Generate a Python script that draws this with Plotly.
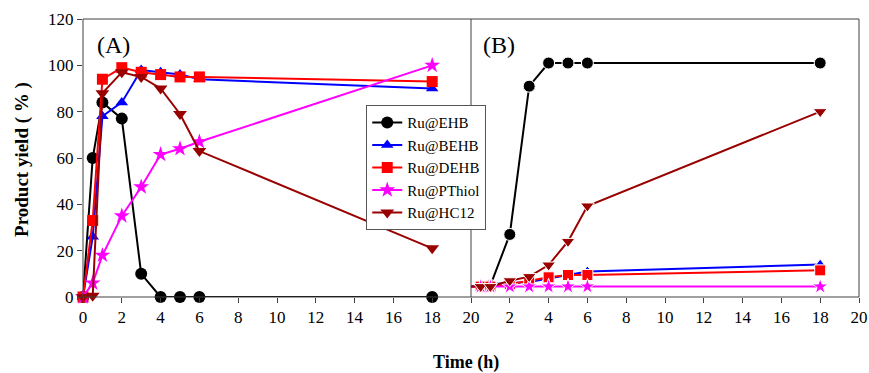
import plotly.graph_objects as go

time_h = [0, 0.5, 1, 2, 3, 4, 5, 6, 18]
series_names = ["Ru@EHB", "Ru@BEHB", "Ru@DEHB", "Ru@PThiol", "Ru@HC12"]

# Panel (A)
a_ehb = [0, 60, 84, 77, 10, 0, 0, 0, 0]
a_behb = [0, 26, 78, 84, 98, 97, 96, 94, 90]
a_dehb = [0, 33, 94, 99, 97, 96, 95, 95, 93]
a_pthiol = [0, 6, 18, 35, 47.5, 61.5, 64, 67, 100]
a_hc12 = [0, 0.5, 88, 97, 95, 90, 79, 63, 21]

# Panel (B)
b_ehb = [4.5, 4.5, 5, 27, 91, 101, 101, 101, 101]
b_behb = [4.5, 5.5, 5.5, 6, 6.5, 8, 9.5, 11, 14]
b_dehb = [4.5, 4.5, 4.5, 5.5, 7, 8.5, 9.5, 9.5, 11.5]
b_pthiol = [4.5, 4.5, 4.5, 4.5, 4.5, 4.5, 4.5, 4.5, 4.5]
b_hc12 = [4.5, 4.5, 4.5, 7, 8.8, 13.8, 24, 39.3, 80]

x_ticks_a = [0, 2, 4, 6, 8, 10, 12, 14, 16, 18, 20]
x_ticks_b = [2, 4, 6, 8, 10, 12, 14, 16, 18, 20]
y_ticks = [0, 20, 40, 60, 80, 100, 120]

colors = ["#000000", "#0000ff", "#ff0000", "#ff00ff", "#990000"]
symbols = ["circle", "triangle-up", "square", "star", "triangle-down"]
msizes = [12, 11, 11, 12, 12]

FONT = "Liberation Serif"

fig = go.Figure()
a_data = [a_ehb, a_behb, a_dehb, a_pthiol, a_hc12]
b_data = [b_ehb, b_behb, b_dehb, b_pthiol, b_hc12]
for name, ys, c, s, ms in zip(series_names, a_data, colors, symbols, msizes):
    fig.add_trace(go.Scatter(
        x=time_h, y=ys, name=name, mode="lines+markers",
        line=dict(color=c, width=2),
        marker=dict(symbol=s, size=ms, color=c, opacity=1),
        xaxis="x", yaxis="y", cliponaxis=False,
    ))
for name, ys, c, s, ms in zip(series_names, b_data, colors, symbols, msizes):
    sizes = [0] + [ms] * (len(ys) - 1)
    fig.add_trace(go.Scatter(
        x=time_h, y=ys, name=name, mode="lines+markers", showlegend=False,
        line=dict(color=c, width=2),
        marker=dict(symbol=s, size=sizes, color=c, opacity=1),
        xaxis="x2", yaxis="y", cliponaxis=False,
    ))

axis_common = dict(
    range=[0, 20], showgrid=False, zeroline=False, showline=False,
    ticks="outside", ticklen=5, tickcolor="#404040", tickwidth=1,
    tickfont=dict(family=FONT, size=17, color="#000"), automargin=False,
)
fig.update_layout(
    width=869, height=373,
    margin=dict(l=83, r=10, t=19, b=76),
    paper_bgcolor="white", plot_bgcolor="white",
    font=dict(family=FONT, color="#000"),
    xaxis=dict(domain=[0, 0.5], anchor="y", tickvals=x_ticks_a, **axis_common),
    xaxis2=dict(domain=[0.5, 1], anchor="y", tickvals=x_ticks_b, **axis_common),
    yaxis=dict(
        range=[0, 120], tickvals=y_ticks, showgrid=False, zeroline=False,
        showline=False, ticks="outside", ticklen=5, tickcolor="#404040",
        tickfont=dict(family=FONT, size=17, color="#000"), automargin=False,
    ),
    legend=dict(
        x=0.365, y=0.69, xanchor="left", yanchor="top",
        bordercolor="#555", borderwidth=1, bgcolor="white",
        font=dict(family=FONT, size=15), tracegroupgap=0, itemwidth=30,
    ),
    showlegend=True,
)
# frame
fig.add_shape(type="rect", xref="paper", yref="paper", x0=0, y0=0, x1=1, y1=1,
              line=dict(color="#404040", width=1))
fig.add_shape(type="line", xref="paper", yref="paper", x0=0.5, y0=0, x1=0.5, y1=1,
              line=dict(color="#404040", width=1))
fig.add_annotation(text="(A)", xref="paper", yref="paper", x=0.015, y=0.905,
                   xanchor="left", yanchor="middle", showarrow=False,
                   font=dict(family=FONT, size=24))
fig.add_annotation(text="(B)", xref="paper", yref="paper", x=0.513, y=0.905,
                   xanchor="left", yanchor="middle", showarrow=False,
                   font=dict(family=FONT, size=24))
fig.add_annotation(text="<b>Time (h)</b>", xref="paper", yref="paper", x=0.494, y=-0.237,
                   xanchor="center", yanchor="middle", showarrow=False,
                   font=dict(family=FONT, size=18))
fig.add_annotation(text="<b>Product yield ( % )</b>", xref="paper", yref="paper",
                   x=-0.0786, y=0.493, xanchor="center", yanchor="middle",
                   textangle=-90, showarrow=False,
                   font=dict(family=FONT, size=19))

fig.write_html("out.html", config={"displayModeBar": False},
               post_script="document.body.style.margin='0';document.body.style.overflow='hidden';")
